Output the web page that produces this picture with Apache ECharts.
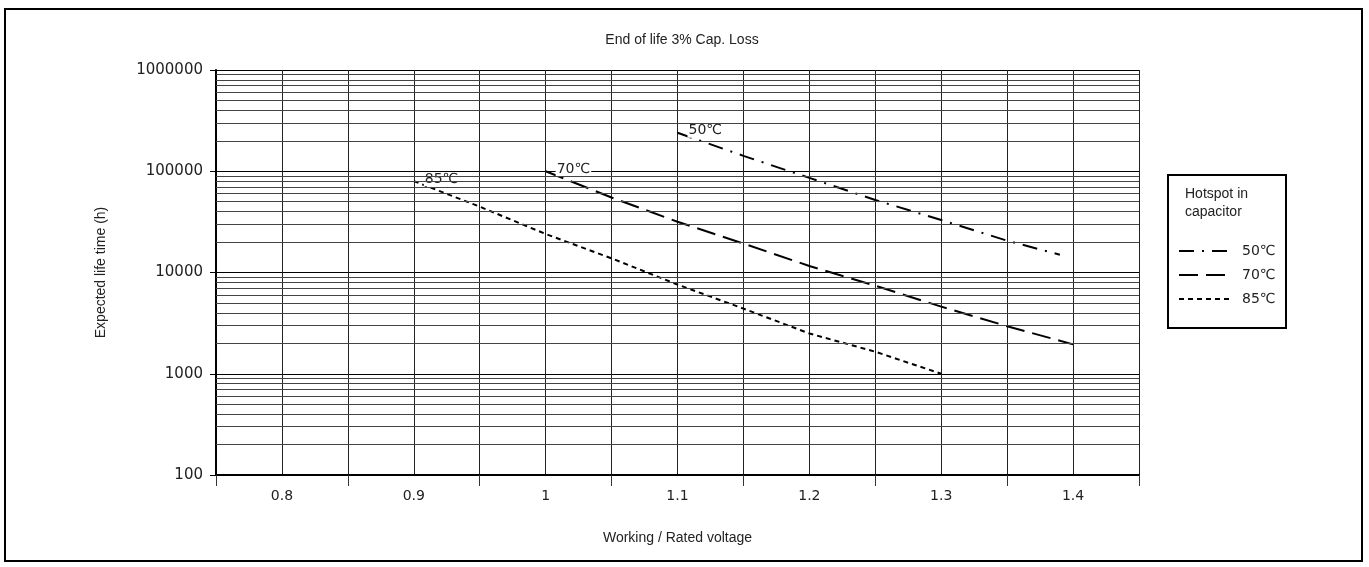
<!DOCTYPE html>
<html>
<head>
<meta charset="utf-8">
<script src="https://cdn.jsdelivr.net/npm/echarts@6/dist/echarts.min.js"></script>
<style>
html,body{margin:0;padding:0;background:#fff;}
#chart{width:1369px;height:567px;}
</style>
</head>
<body>
<div id="chart"></div>
<script>
// ---- data ----
var titleText = 'End of life 3% Cap. Loss';
var xName = 'Working / Rated voltage';
var yName = 'Expected life time (h)';
var legendTitle = 'Hotspot in\ncapacitor';
var seriesNames = ['50\u2103', '70\u2103', '85\u2103'];

var x50 = [1.1, 1.15, 1.2, 1.25, 1.3, 1.35, 1.39];
var y50 = [240000, 142000, 86000, 52000, 33000, 20600, 15000];

var x70 = [1.0, 1.05, 1.1, 1.15, 1.2, 1.25, 1.3, 1.35, 1.4];
var y70 = [100000, 55000, 31700, 19300, 11600, 7400, 4600, 2950, 1950];

var x85 = [0.9, 0.95, 1.0, 1.05, 1.1, 1.15, 1.2, 1.25, 1.3];
var y85 = [80000, 44700, 24000, 13800, 7600, 4400, 2500, 1650, 1000];

var xLabelValues = [0.8, 0.9, 1.0, 1.1, 1.2, 1.3, 1.4];
var decades = [100, 1000, 10000, 100000];
var minorFactors = [2, 3, 4, 5, 6, 7, 8, 9];

// ---- build ----
var minorGrid = [];
decades.forEach(function (d) {
  minorFactors.forEach(function (f) { minorGrid.push({ yAxis: d * f }); });
});

function pts(xs, ys, label) {
  return xs.map(function (x, i) {
    if (i === 0) {
      return {
        value: [x, ys[i]],
        symbol: 'circle',
        symbolSize: 0.01,
        label: {
          show: true, position: 'right', distance: 10, offset: [0, -2],
          formatter: label, color: '#222', fontSize: 14,
          fontFamily: 'DejaVu Sans', backgroundColor: '#fff', padding: [0, 1]
        }
      };
    }
    return [x, ys[i]];
  });
}

var numFont = 'DejaVu Sans';
var txtFont = 'Liberation Sans';

var chart = echarts.init(document.getElementById('chart'), null, { renderer: 'canvas' });
var option = {
  animation: false,
  backgroundColor: '#fff',
  title: {
    text: titleText, left: 677, top: 28, textAlign: 'center',
    textStyle: { fontSize: 14, fontWeight: 'normal', color: '#222', fontFamily: txtFont }
  },
  grid: { left: 216, right: 230, top: 70, bottom: 92, containLabel: false },
  xAxis: [{
    type: 'value', min: 0.75, max: 1.45, interval: 0.05,
    name: xName, nameLocation: 'middle', nameGap: 56,
    nameTextStyle: { fontSize: 14, color: '#222', fontFamily: txtFont },
    axisLine: { show: true, lineStyle: { color: '#000', width: 2 } },
    axisTick: { show: false },
    axisLabel: {
      margin: 14, fontSize: 14, color: '#222', fontFamily: numFont,
      formatter: function (v) {
        for (var i = 0; i < xLabelValues.length; i++) {
          if (Math.abs(v - xLabelValues[i]) < 1e-6) return String(xLabelValues[i]);
        }
        return '';
      }
    },
    splitLine: { show: true, lineStyle: { color: '#222', width: 1 } }
  }, {
    type: 'value', min: 0, max: 7, interval: 1, position: 'bottom',
    axisLine: { show: false },
    axisTick: { show: true, length: 11, lineStyle: { color: '#333', width: 1 } },
    axisLabel: { show: false },
    splitLine: { show: false }
  }],
  yAxis: {
    type: 'log', logBase: 10, min: 100, max: 1000000,
    name: yName, nameLocation: 'middle', nameGap: 108, nameRotate: 90,
    nameTextStyle: { fontSize: 14, color: '#222', fontFamily: txtFont },
    axisLine: { show: true, lineStyle: { color: '#000', width: 2 } },
    axisTick: { show: true, length: 6, lineStyle: { color: '#000' } },
    axisLabel: {
      margin: 13, fontSize: 15, color: '#222', fontFamily: numFont,
      formatter: function (v) { return String(Math.round(v)); }
    },
    splitLine: { show: true, lineStyle: { color: '#000', width: 1 } }
  },
  legend: {
    orient: 'vertical', left: 1178, top: 244,
    itemWidth: 52, itemHeight: 14, itemGap: 10, padding: 0,
    data: seriesNames,
    itemStyle: { opacity: 0, color: 'rgba(0,0,0,0)', borderWidth: 0 },
    textStyle: { fontSize: 14, color: '#222', fontFamily: numFont, padding: [0, 0, 0, 6] }
  },
  series: [
    {
      name: 'grid', type: 'line', data: [], z: 1, silent: true,
      markLine: {
        silent: true, symbol: ['none', 'none'], animation: false,
        label: { show: false },
        lineStyle: { color: '#444', width: 1, type: 'solid' },
        emphasis: { disabled: true },
        data: minorGrid
      }
    },
    {
      name: seriesNames[0], type: 'line', z: 3, symbol: 'none',
      data: pts(x50, y50, seriesNames[0]),
      lineStyle: { color: '#000', width: 2, type: [15, 8, 2, 8] },
      itemStyle: { color: '#000' }
    },
    {
      name: seriesNames[1], type: 'line', z: 3, symbol: 'none',
      data: pts(x70, y70, seriesNames[1]),
      lineStyle: { color: '#000', width: 2, type: [19, 8] },
      itemStyle: { color: '#000' }
    },
    {
      name: seriesNames[2], type: 'line', z: 3, symbol: 'none',
      data: pts(x85, y85, seriesNames[2]),
      lineStyle: { color: '#000', width: 2, type: [5, 4] },
      itemStyle: { color: '#000' }
    }
  ],
  graphic: [
    {
      type: 'rect', silent: true, z: 100,
      shape: { x: 5, y: 9, width: 1357, height: 552 },
      style: { fill: 'none', stroke: '#000', lineWidth: 2 }
    },
    {
      type: 'rect', silent: true, z: 100,
      shape: { x: 1168, y: 175, width: 118, height: 153 },
      style: { fill: 'none', stroke: '#000', lineWidth: 2 }
    },
    {
      type: 'text', silent: true, z: 100, left: 1185, top: 185,
      style: { text: legendTitle, fontSize: 14, lineHeight: 18, fill: '#222', fontFamily: txtFont }
    }
  ]
};
chart.setOption(option);
</script>
</body>
</html>
